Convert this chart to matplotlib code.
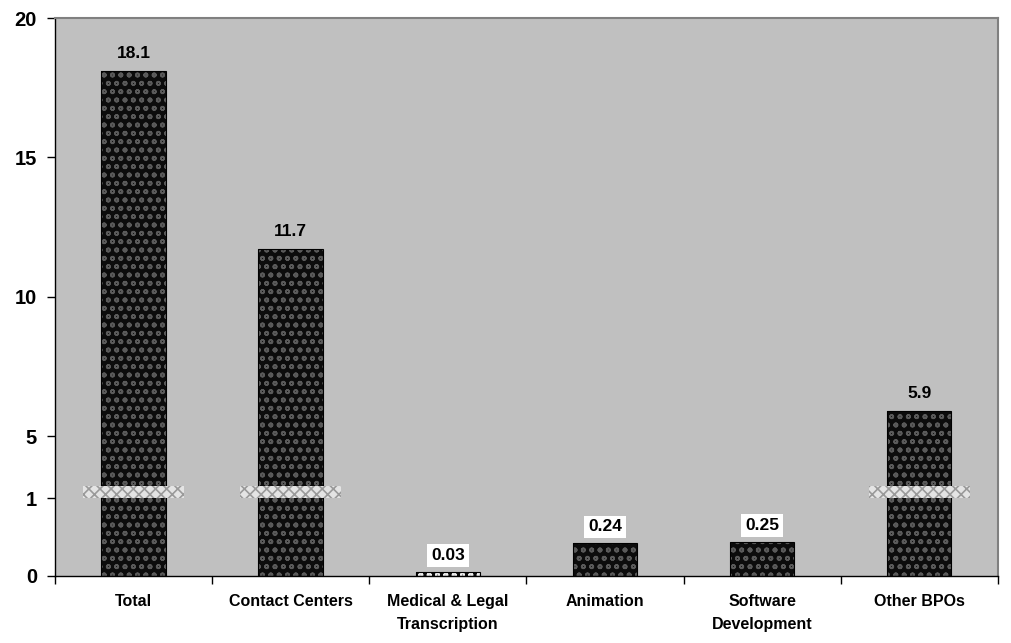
import numpy as np
import matplotlib
matplotlib.use("Agg")
import matplotlib.pyplot as plt
from matplotlib.patches import Rectangle

categories = ["Total", "Contact Centers", "Medical & Legal\nTranscription",
              "Animation", "Software\nDevelopment", "Other BPOs"]
values = [18.1, 11.7, 0.03, 0.24, 0.25, 5.9]
labels = ["18.1", "11.7", "0.03", "0.24", "0.25", "5.9"]
yticks = [0, 1, 5, 10, 15, 20]

# broken axis: piecewise scale (value -> screen units)
knot_v = [0, 0.25, 1, 5, 20]
knot_p = [0, 34, 78, 140, 558]

def fwd(v):
    return np.interp(v, knot_v, knot_p)

def inv(p):
    return np.interp(p, knot_p, knot_v)

plt.rcParams['font.family'] = ['Liberation Sans', 'DejaVu Sans']
plt.rcParams['hatch.linewidth'] = 1.2

fig = plt.figure(figsize=(10.12, 6.43), dpi=100)
ax = fig.add_axes([0.0543, 0.1042, 0.9317, 0.8678])
ax.set_facecolor('#c0c0c0')
ax.set_yscale('function', functions=(fwd, inv))
ax.set_ylim(0, 20)
ax.set_xlim(-0.5, len(categories) - 0.5)

x = np.arange(len(categories))
w = 0.41
for i, v in enumerate(values):
    hatch_col = '#f0f0f0' if v < 0.1 else '#5a5a5a'
    ax.bar(x[i], v, width=w, color='#0c0c0c', edgecolor=hatch_col,
           hatch='oo', linewidth=0, zorder=2)
    ax.bar(x[i], v, width=w, fill=False, edgecolor='#000000',
           linewidth=0.8, zorder=3)
    if v > 5:
        ax.add_patch(Rectangle((x[i] - w / 2 - 0.115, 1.0), w + 0.23, 0.77,
                               facecolor='#e4e4e4', edgecolor='#9a9a9a',
                               hatch='xxx', linewidth=0, zorder=4))
    if v < 1:
        ax.annotate(labels[i], (x[i], v), xytext=(0, 9),
                    textcoords='offset pixels', ha='center', va='bottom',
                    fontsize=12.5, fontweight='bold', zorder=5,
                    bbox=dict(boxstyle='square,pad=0.22', fc='white', ec='none'))
    else:
        ax.annotate(labels[i], (x[i], v), xytext=(0, 10),
                    textcoords='offset pixels', ha='center', va='bottom',
                    fontsize=12.5, fontweight='bold', zorder=5)

ax.set_yticks(yticks)
ax.set_yticklabels([str(t) for t in yticks], fontsize=14.5, fontweight='bold')
ax.tick_params(axis='y', direction='out', length=6, width=1, pad=7)

ax.set_xticks(np.arange(len(categories) + 1) - 0.5)
ax.set_xticklabels([])
ax.set_xticks(x, minor=True)
ax.set_xticklabels(categories, minor=True, fontsize=11.5, fontweight='bold',
                   linespacing=1.7)
ax.tick_params(axis='x', which='major', direction='out', length=6, width=1)
ax.tick_params(axis='x', which='minor', length=0, pad=13)

for s in ['top', 'right']:
    ax.spines[s].set_color('#808080')
    ax.spines[s].set_linewidth(1.5)
for s in ['left', 'bottom']:
    ax.spines[s].set_color('#000000')
    ax.spines[s].set_linewidth(1)

fig.savefig('out.png', dpi=100)
